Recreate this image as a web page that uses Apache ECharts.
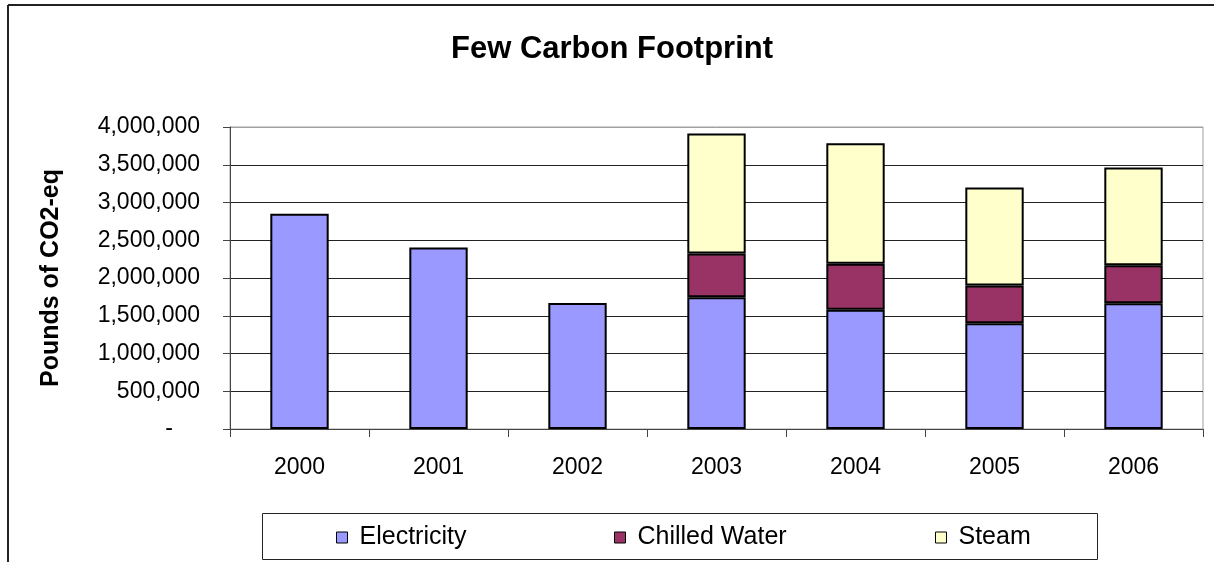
<!DOCTYPE html>
<html>
<head>
<meta charset="utf-8">
<title>Few Carbon Footprint</title>
<script src="https://cdn.jsdelivr.net/npm/echarts@6/dist/echarts.min.js"></script>
<style>
  html, body { margin: 0; padding: 0; background: #fff; }
  #chart { width: 1214px; height: 562px; }
</style>
</head>
<body>
<div id="chart"></div>
<script>
// Annual emissions by source, pounds of CO2-equivalent
const years = ['2000', '2001', '2002', '2003', '2004', '2005', '2006'];
const electricity  = [2850000, 2405000, 1670000, 1745000, 1580000, 1400000, 1665000];
const chilledWater = [null, null, null, 580000, 610000, 500000, 505000];
const steam        = [null, null, null, 1590000, 1595000, 1300000, 1295000];
const yTicks = [0, 500000, 1000000, 1500000, 2000000, 2500000, 3000000, 3500000, 4000000];

const seriesNames  = ['Electricity', 'Chilled Water', 'Steam'];
const seriesColors = ['#9999FF', '#993366', '#FFFFCC'];
const seriesData   = [electricity, chilledWater, steam];

const FONT = '"Liberation Sans", Arial, sans-serif';

const chart = echarts.init(document.getElementById('chart'), null, { renderer: 'canvas' });

function fmtTick(v) {
  if (v === 0) return '{dash|-}';
  return v.toString().replace(/\B(?=(\d{3})+(?!\d))/g, ',');
}

// one legend component per series so each entry sits at its own spot
const legendLefts = [336, 614, 935];
const legends = seriesNames.map((name, i) => ({
  data: [name],
  left: legendLefts[i],
  top: 525,
  padding: 0,
  icon: 'rect',
  itemWidth: 11,
  itemHeight: 11,
  itemStyle: { borderColor: '#000', borderWidth: 1 },
  textStyle: { fontFamily: FONT, fontSize: 25, color: '#000', padding: [0, 0, 0, 7] },
  selectedMode: false
}));

const splitColors = yTicks.map((v, i) => i === yTicks.length - 1 ? '#a0a0a0' : '#222');

chart.setOption({
  animation: false,
  backgroundColor: '#fff',
  title: {
    text: 'Few Carbon Footprint',
    left: 446,
    top: 29,
    textStyle: { fontFamily: FONT, fontSize: 31, fontWeight: 'bold', color: '#000' }
  },
  legend: legends,
  grid: { left: 230, right: 11, top: 127, bottom: 133, show: true, borderColor: '#a0a0a0', borderWidth: 1, backgroundColor: '#fff' },
  xAxis: {
    type: 'category',
    data: years,
    axisLine: { lineStyle: { color: '#444', width: 1 } },
    axisTick: { show: true, length: 8, lineStyle: { color: '#444' } },
    axisLabel: { fontFamily: FONT, fontSize: 23, color: '#000', margin: 27 },
    splitLine: { show: false }
  },
  yAxis: {
    type: 'value',
    min: 0,
    max: 4000000,
    interval: 500000,
    name: 'Pounds of CO2-eq',
    nameLocation: 'middle',
    nameGap: 166,
    nameTextStyle: { fontFamily: FONT, fontSize: 25, fontWeight: 'bold', color: '#000' },
    axisLine: { show: true, lineStyle: { color: '#444', width: 1 } },
    axisTick: { show: true, length: 7, lineStyle: { color: '#444' } },
    axisLabel: {
      fontFamily: FONT, fontSize: 23, color: '#000', margin: 30,
      formatter: fmtTick,
      rich: { dash: { fontFamily: FONT, fontSize: 23, color: '#000', padding: [0, 27, 0, 0] } }
    },
    splitLine: { show: true, lineStyle: { color: splitColors, width: 1 } }
  },
  series: seriesNames.map((name, i) => ({
    name: name,
    type: 'bar',
    stack: 'total',
    barWidth: '42%',
    data: seriesData[i],
    itemStyle: { color: seriesColors[i], borderColor: '#000', borderWidth: 2 }
  })),
  graphic: [
    // outer chart frame (left and top edges)
    { type: 'line', shape: { x1: 8, y1: 5, x2: 1214, y2: 5 }, style: { stroke: '#222', lineWidth: 2 }, silent: true },
    { type: 'line', shape: { x1: 8, y1: 5, x2: 8, y2: 562 }, style: { stroke: '#222', lineWidth: 2 }, silent: true },
    // legend box
    { type: 'rect', shape: { x: 262.5, y: 513.5, width: 835, height: 46 }, style: { fill: 'none', stroke: '#222', lineWidth: 1 }, silent: true, z: -1 }
  ]
});
</script>
</body>
</html>
